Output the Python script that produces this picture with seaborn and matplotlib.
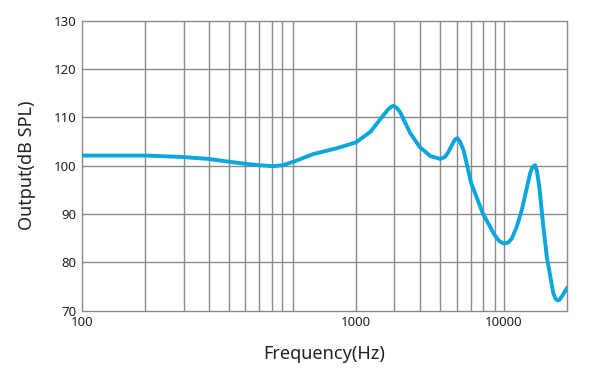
import numpy as np
import pandas as pd
import seaborn as sns
import matplotlib.pyplot as plt

# frequency response
freq = [100, 170, 233, 290, 346, 394, 444, 497, 540, 591, 699, 851, 1000,
        1256, 1506, 1650, 1740, 1803, 1900, 2000, 2150, 2337, 2700, 3188,
        3722, 4000, 4236, 4500, 4700, 4866, 5050, 5345, 6022, 7219, 8644,
        9300, 10000, 10700, 11300, 12200, 13220, 14200, 15040, 15600, 16250,
        16700, 17370, 18400, 19490, 21590, 22300, 23100, 23800, 24600, 26830]
spl = [102.1, 102.1, 101.8, 101.4, 100.8, 100.4, 100.1, 99.9, 100.1, 100.8,
       102.4, 103.6, 104.8, 107.0, 110.1, 111.6, 112.2, 112.4, 111.9, 111.0,
       109.0, 106.7, 103.9, 102.0, 101.4, 101.8, 102.9, 104.5, 105.5, 105.7,
       105.0, 103.2, 96.4, 90.1, 85.7, 84.4, 83.9, 84.1, 84.9, 87.3, 90.8,
       95.0, 98.4, 99.7, 100.1, 99.0, 95.6, 88.0, 81.2, 73.6, 72.5, 72.1,
       72.3, 72.9, 74.8]

x_ticks = [100, 1000, 10000]
x_grid = [170, 235, 290, 345, 395, 445, 495, 540, 590, 1000,
          1800, 2700, 3700, 4800, 6000, 7200, 8650, 10000]
y_ticks = [70, 80, 90, 100, 110, 120, 130]

df = pd.DataFrame({'Frequency': freq, 'Output': spl})

# the chart's decades are not evenly spaced, so map log10(f) piecewise
knots_log = [2, 3, 4, 5]
knots_pos = [0, 274.3, 422.7, 571.1]

def fwd(x):
    return np.interp(np.log10(np.clip(x, 1e-6, None)), knots_log, knots_pos)

def inv(u):
    return 10 ** np.interp(u, knots_pos, knots_log)

sns.set_style('white')
plt.rcParams['font.family'] = ['Noto Sans', 'DejaVu Sans']

fig = plt.figure(figsize=(5.92, 3.75), dpi=100)
ax = fig.add_axes([0.1385, 0.1715, 0.8198, 0.7733])
ax.set_xscale('function', functions=(fwd, inv))
ax.set_xlim(100, 26830)
ax.set_ylim(70, 130)

for g in x_grid:
    ax.axvline(g, color='#8a8a8a', lw=1.0, zorder=1)
for g in y_ticks[1:-1]:
    ax.axhline(g, color='#8a8a8a', lw=1.0, zorder=1)

sns.lineplot(data=df, x='Frequency', y='Output', ax=ax, color='#0aa6de',
             lw=2.8, zorder=3, sort=False)
ax.lines[-1].set_solid_joinstyle('round')

ax.set_xticks(x_ticks)
ax.set_xticklabels([str(t) for t in x_ticks])
ax.set_xticks([], minor=True)
ax.set_yticks(y_ticks)
ax.tick_params(axis='both', length=0, labelsize=9.5, colors='#222222', pad=4)

for s in ax.spines.values():
    s.set_color('#8a8a8a')
    s.set_linewidth(1.0)

ax.set_xlabel('Frequency(Hz)', fontsize=13, color='#222222', labelpad=11)
ax.set_ylabel('Output(dB SPL)', fontsize=13, color='#222222', labelpad=13)

fig.savefig('out.png', dpi=100)
